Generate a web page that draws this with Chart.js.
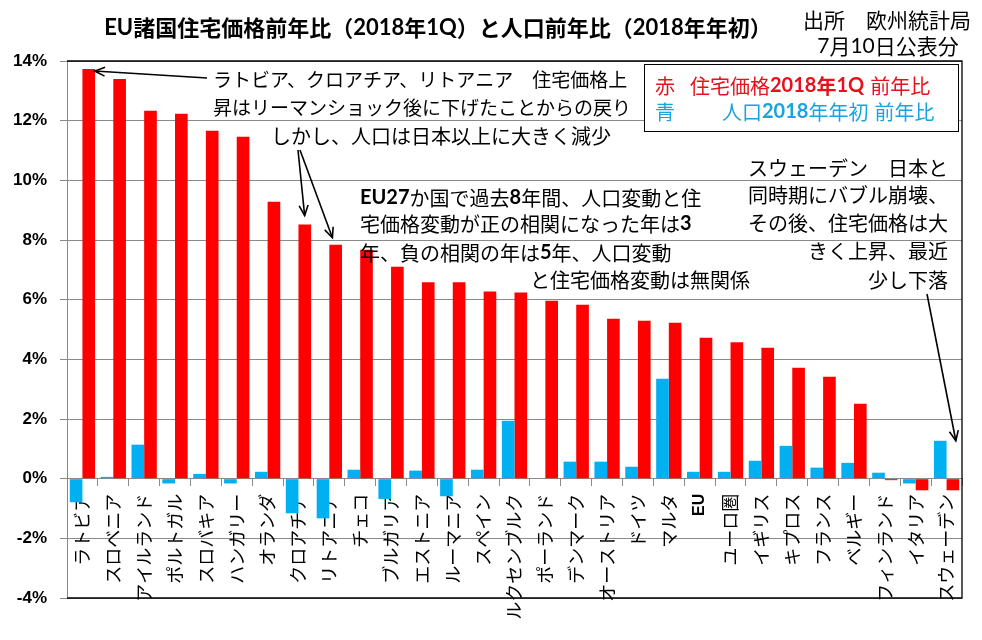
<!DOCTYPE html>
<html><head><meta charset="utf-8">
<script src="https://cdn.jsdelivr.net/npm/chart.js@4.4.0/dist/chart.umd.min.js"></script>
<style>html,body{margin:0;padding:0;background:#fff;}</style>
</head><body>
<canvas id="c" width="982" height="640"></canvas>
<script>
const categories = ['ラトビア','スロベニア','アイルランド','ポルトガル','スロバキア','ハンガリー','オランダ','クロアチア','リトアニア','チェコ','ブルガリア','エストニア','ルーマニア','スペイン','ルクセンブルク','ポーランド','デンマーク','オーストリア','ドイツ','マルタ','EU','ユーロ圏','イギリス','キプロス','フランス','ベルギー','フィンランド','イタリア','スウェーデン'];
const housePriceYoY = [13.73,13.40,12.33,12.23,11.66,11.46,9.28,8.52,7.84,7.67,7.10,6.58,6.58,6.27,6.24,5.96,5.83,5.36,5.29,5.23,4.72,4.57,4.39,3.72,3.42,2.51,-0.05,-0.39,-0.39];
const populationYoY = [-0.79,0.06,1.14,-0.16,0.16,-0.16,0.23,-1.16,-1.33,0.30,-0.68,0.27,-0.59,0.30,1.94,0.0,0.57,0.57,0.40,3.35,0.23,0.23,0.60,1.10,0.37,0.53,0.20,-0.16,1.27];
const yMin = -4, yMax = 14, yStep = 2;

const CJK = '"Noto Sans CJK JP"';
const LAT = 'Lato';

function runsOf(str){ return str.match(/[\x21-\x7E]+|[^\x21-\x7E]+/g) || []; }
function fontFor(run, size, boldAscii, boldAll){
  const ascii = /^[\x21-\x7E]+$/.test(run);
  if (ascii) return (boldAscii||boldAll ? 'bold ' : '') + size + 'px ' + LAT;
  return (boldAll ? 'bold ' : '') + size + 'px ' + CJK;
}
function drawRich(ctx, str, x, y, opt){
  const size = opt.size || 20, align = opt.align || 'left';
  const runs = runsOf(str);
  let widths = runs.map(r => { ctx.font = fontFor(r, size, opt.boldAscii, opt.boldAll); return ctx.measureText(r).width; });
  const total = widths.reduce((a,b)=>a+b,0);
  let cx = align === 'right' ? x - total : (align === 'center' ? x - total/2 : x);
  ctx.textBaseline = 'middle'; ctx.textAlign = 'left';
  ctx.fillStyle = opt.color || '#000';
  runs.forEach((r,i) => { ctx.font = fontFor(r, size, opt.boldAscii, opt.boldAll); ctx.fillText(r, cx, y); cx += widths[i]; });
  return cx;
}
function arrow(ctx, x1, y1, x2, y2){
  ctx.beginPath(); ctx.moveTo(x1,y1); ctx.lineTo(x2,y2); ctx.stroke();
  const ang = Math.atan2(y2-y1, x2-x1), L = 11, w = 0.42;
  ctx.beginPath();
  ctx.moveTo(x2 - L*Math.cos(ang-w), y2 - L*Math.sin(ang-w));
  ctx.lineTo(x2, y2);
  ctx.lineTo(x2 - L*Math.cos(ang+w), y2 - L*Math.sin(ang+w));
  ctx.stroke();
}

const annoPlugin = {
  id: 'anno',
  afterDraw(chart){
    const ctx = chart.ctx, a = chart.chartArea;
    const xs = chart.scales.x, ys = chart.scales.y;
    ctx.save();
    // plot border (top, right, bottom)
    ctx.strokeStyle = '#000'; ctx.lineWidth = 1.3;
    ctx.beginPath();
    ctx.moveTo(a.left, a.top); ctx.lineTo(a.right, a.top); ctx.lineTo(a.right, a.bottom); ctx.lineTo(a.left, a.bottom);
    ctx.stroke();

    // title & source
    ctx.fillStyle = '#000';
    drawRich(ctx, 'EU諸国住宅価格前年比（2018年1Q）と人口前年比（2018年年初）', 438, 28, {size: 22, boldAll: true, align: 'center'});
    drawRich(ctx, '出所　欧州統計局', 887, 20, {size: 21, align: 'center'});
    drawRich(ctx, '7月10日公表分', 888, 46, {size: 21, align: 'center'});

    // legend box
    ctx.fillStyle = '#fff'; ctx.fillRect(644, 64, 314, 67);
    ctx.strokeStyle = '#000'; ctx.lineWidth = 1; ctx.strokeRect(644.5, 64.5, 314, 67);
    const RED = '#E8101A', BLUE = '#1AA3DF';
    drawRich(ctx, '赤', 655, 86, {size: 20, color: RED});
    let nx = drawRich(ctx, '住宅価格', 690, 86, {size: 20, color: RED});
    nx = drawRich(ctx, '2018年1Q', nx, 86, {size: 20, color: RED, boldAll: true});
    drawRich(ctx, '前年比', nx + 6, 86, {size: 20, color: RED});
    drawRich(ctx, '青', 655, 112, {size: 20, color: BLUE});
    nx = drawRich(ctx, '人口', 722, 112, {size: 20, color: BLUE});
    nx = drawRich(ctx, '2018', nx, 112, {size: 20, color: BLUE, boldAll: true});
    nx = drawRich(ctx, '年年初', nx, 112, {size: 20, color: BLUE});
    drawRich(ctx, '前年比', nx + 6, 112, {size: 20, color: BLUE});

    // annotation block 1
    drawRich(ctx, 'ラトビア、クロアチア、リトアニア　住宅価格上', 213, 80, {size: 19});
    drawRich(ctx, '昇はリーマンショック後に下げたことからの戻り', 213, 108, {size: 19});
    drawRich(ctx, 'しかし、人口は日本以上に大きく減少', 271, 136, {size: 20});
    // block 2
    drawRich(ctx, 'EU27か国で過去8年間、人口変動と住', 360, 198, {size: 20, boldAscii: true});
    drawRich(ctx, '宅価格変動が正の相関になった年は3', 360, 224, {size: 20, boldAscii: true});
    drawRich(ctx, '年、負の相関の年は5年、人口変動', 360, 253, {size: 20, boldAscii: true});
    drawRich(ctx, 'と住宅価格変動は無関係', 530, 280, {size: 20, boldAscii: true});
    // block 3
    drawRich(ctx, 'スウェーデン　日本と', 948, 168, {size: 20, align: 'right'});
    drawRich(ctx, '同時期にバブル崩壊、', 948, 195, {size: 20, align: 'right'});
    drawRich(ctx, 'その後、住宅価格は大', 948, 223, {size: 20, align: 'right'});
    drawRich(ctx, 'きく上昇、最近', 948, 251, {size: 20, align: 'right'});
    drawRich(ctx, '少し下落', 948, 280, {size: 20, align: 'right'});

    // arrows pointing at bars (tips anchored to the scales)
    ctx.strokeStyle = '#000'; ctx.lineWidth = 1.6;
    const cw = (xs.getPixelForValue(1) - xs.getPixelForValue(0));
    const iLat = 0, iCro = 7, iLit = 8, iSwe = 28;
    arrow(ctx, 207, 78, xs.getPixelForValue(iLat) + cw*0.4, ys.getPixelForValue(housePriceYoY[iLat]) + 2);
    arrow(ctx, 298, 150, xs.getPixelForValue(iCro) + cw*0.2, ys.getPixelForValue(housePriceYoY[iCro]) - 9);
    arrow(ctx, 300, 150, xs.getPixelForValue(iLit) + cw*0.1, ys.getPixelForValue(housePriceYoY[iLit]) - 7);
    arrow(ctx, 927, 294, xs.getPixelForValue(iSwe) + cw*0.3, ys.getPixelForValue(populationYoY[iSwe]));
    ctx.restore();
  }
};

const grey = '#8a8a8a';
new Chart(document.getElementById('c'), {
  type: 'bar',
  data: {
    labels: categories,
    datasets: [
      {label: '人口2018年年初 前年比', data: populationYoY, backgroundColor: '#00B0F0', borderWidth: 0},
      {label: '住宅価格2018年1Q 前年比', data: housePriceYoY, backgroundColor: '#FF0000', borderWidth: 0}
    ]
  },
  options: {
    responsive: false,
    animation: false,
    layout: {padding: {left: 0, right: 20, top: 61, bottom: 42}},
    datasets: {bar: {categoryPercentage: 0.82, barPercentage: 1.0}},
    plugins: {legend: {display: false}, title: {display: false}, tooltip: {enabled: false}},
    scales: {
      x: {
        position: {y: 0},
        grid: {display: true, drawOnChartArea: false, drawTicks: true, tickLength: 7, offset: true, color: grey},
        border: {display: true, color: grey, width: 1},
        ticks: {
          autoSkip: false, minRotation: 90, maxRotation: 90, padding: 8, color: '#000',
          font: (c) => ({family: categories[c.index] === 'EU' ? 'Liberation Sans' : '"Noto Sans CJK JP"', size: categories[c.index] === 'EU' ? 16 : 18, weight: categories[c.index] === 'EU' ? 'bold' : 'normal'})
        }
      },
      y: {
        min: yMin, max: yMax,
        afterFit: (s) => { s.width = 67; },
        grid: {color: grey, tickLength: 7, drawTicks: true},
        border: {display: true, color: grey},
        ticks: {stepSize: yStep, padding: 13, color: '#000', font: {family: 'Liberation Sans', size: 17, weight: 'bold'},
          callback: (v) => v + '%'}
      }
    }
  },
  plugins: [annoPlugin]
});
</script>
</body></html>
